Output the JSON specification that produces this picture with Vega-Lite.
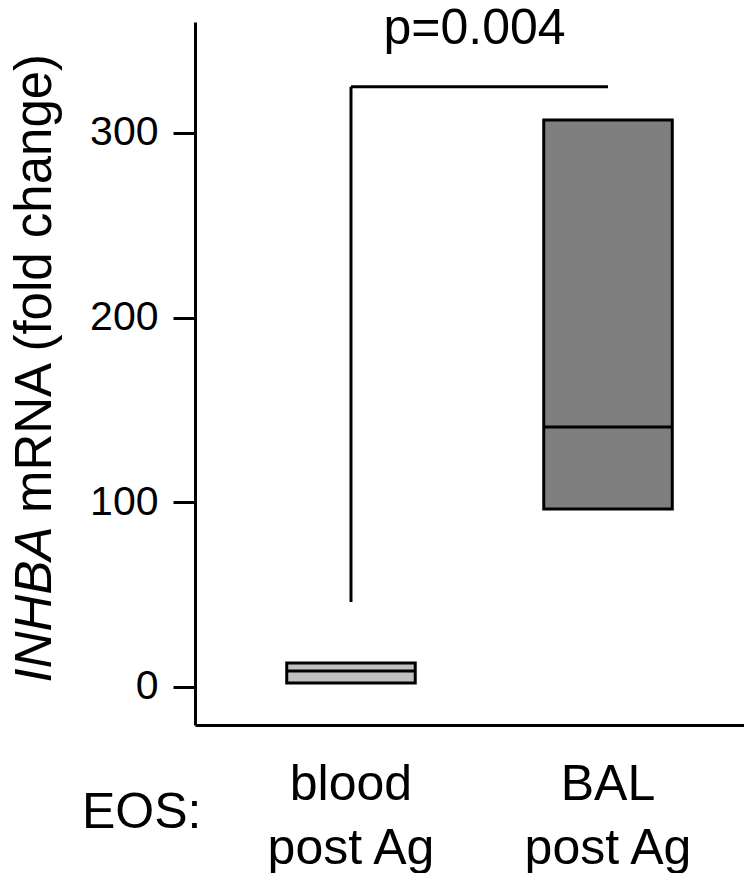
{
  "$schema": "https://vega.github.io/schema/vega-lite/v6.json",
  "width": 549,
  "height": 703,
  "autosize": {"type": "none"},
  "padding": {"left": 195, "top": 22, "right": 0, "bottom": 148},
  "background": "white",
  "title": {
    "text": "p=0.004",
    "fontSize": 50,
    "font": "Liberation Sans",
    "fontWeight": "normal",
    "color": "black",
    "anchor": "middle",
    "frame": "group",
    "baseline": "alphabetic",
    "offset": 0,
    "dy": 72,
    "dx": 5
  },
  "datasets": {
    "boxes": [
      {"group": "blood", "lower": 2.2, "median": 8.7, "upper": 13},
      {"group": "BAL", "lower": 96.4, "median": 140.8, "upper": 307}
    ],
    "bracket": [
      {"group": "blood", "to": "BAL", "top": 325, "bottom": 46}
    ]
  },
  "config": {
    "view": {"stroke": null},
    "font": "Liberation Sans",
    "axis": {
      "grid": false,
      "domainColor": "black",
      "domainWidth": 3,
      "tickColor": "black",
      "labelColor": "black",
      "titleColor": "black",
      "labelFont": "Liberation Sans",
      "titleFont": "Liberation Sans",
      "titleFontWeight": "normal"
    }
  },
  "encoding": {
    "x": {
      "field": "group",
      "type": "nominal",
      "scale": {"domain": ["blood", "BAL"], "paddingInner": 0, "paddingOuter": 0.068, "align": 0.786},
      "axis": {
        "orient": "bottom",
        "ticks": false,
        "labelAngle": 0,
        "labelFontSize": 50,
        "labelLineHeight": 64,
        "labelPadding": 34,
        "labelExpr": "[datum.label, 'post Ag']",
        "title": "EOS:",
        "titleFontSize": 50,
        "titleAngle": 0,
        "titleAlign": "right",
        "titleBaseline": "alphabetic",
        "titleX": 6,
        "titleY": 102
      }
    }
  },
  "layer": [
    {
      "data": {"name": "boxes"},
      "mark": {"type": "bar", "stroke": "black", "strokeWidth": 3, "width": {"band": 0.5}},
      "encoding": {
        "y": {
          "field": "lower",
          "type": "quantitative",
          "scale": {"domain": [-20.6, 360], "nice": false, "zero": false},
          "axis": {
            "orient": "left",
            "values": [0, 100, 200, 300],
            "tickSize": 22,
            "tickWidth": 3,
            "labelFontSize": 41,
            "labelPadding": 15,
            "title": "mRNA (fold change)",
            "titleFontSize": 51,
            "titleAngle": -90,
            "titleAlign": "center",
            "titleBaseline": "alphabetic",
            "titleX": -145,
            "titleY": 261
          }
        },
        "y2": {"field": "upper"},
        "color": {
          "field": "group",
          "type": "nominal",
          "scale": {"domain": ["blood", "BAL"], "range": ["#c0c0c0", "#7f7f7f"]},
          "legend": null
        }
      }
    },
    {
      "data": {"name": "boxes"},
      "mark": {"type": "tick", "color": "black", "thickness": 3, "size": 128, "opacity": 1},
      "encoding": {
        "y": {
          "field": "median",
          "type": "quantitative",
          "axis": {
            "orient": "right",
            "domain": false,
            "ticks": false,
            "labels": false,
            "title": "INHBA",
            "titleFontSize": 51,
            "titleFontStyle": "italic",
            "titleAngle": -90,
            "titleAlign": "center",
            "titleBaseline": "alphabetic",
            "titleX": -694,
            "titleY": 582
          }
        }
      }
    },
    {
      "data": {"name": "bracket"},
      "mark": {"type": "rule", "color": "black", "strokeWidth": 3},
      "encoding": {
        "y": {"field": "bottom", "type": "quantitative", "axis": null},
        "y2": {"field": "top"}
      }
    },
    {
      "data": {"name": "bracket"},
      "mark": {"type": "rule", "color": "black", "strokeWidth": 3},
      "encoding": {
        "x2": {"field": "to"},
        "y": {"field": "top", "type": "quantitative", "axis": null}
      }
    }
  ],
  "resolve": {"axis": {"y": "independent"}}
}
